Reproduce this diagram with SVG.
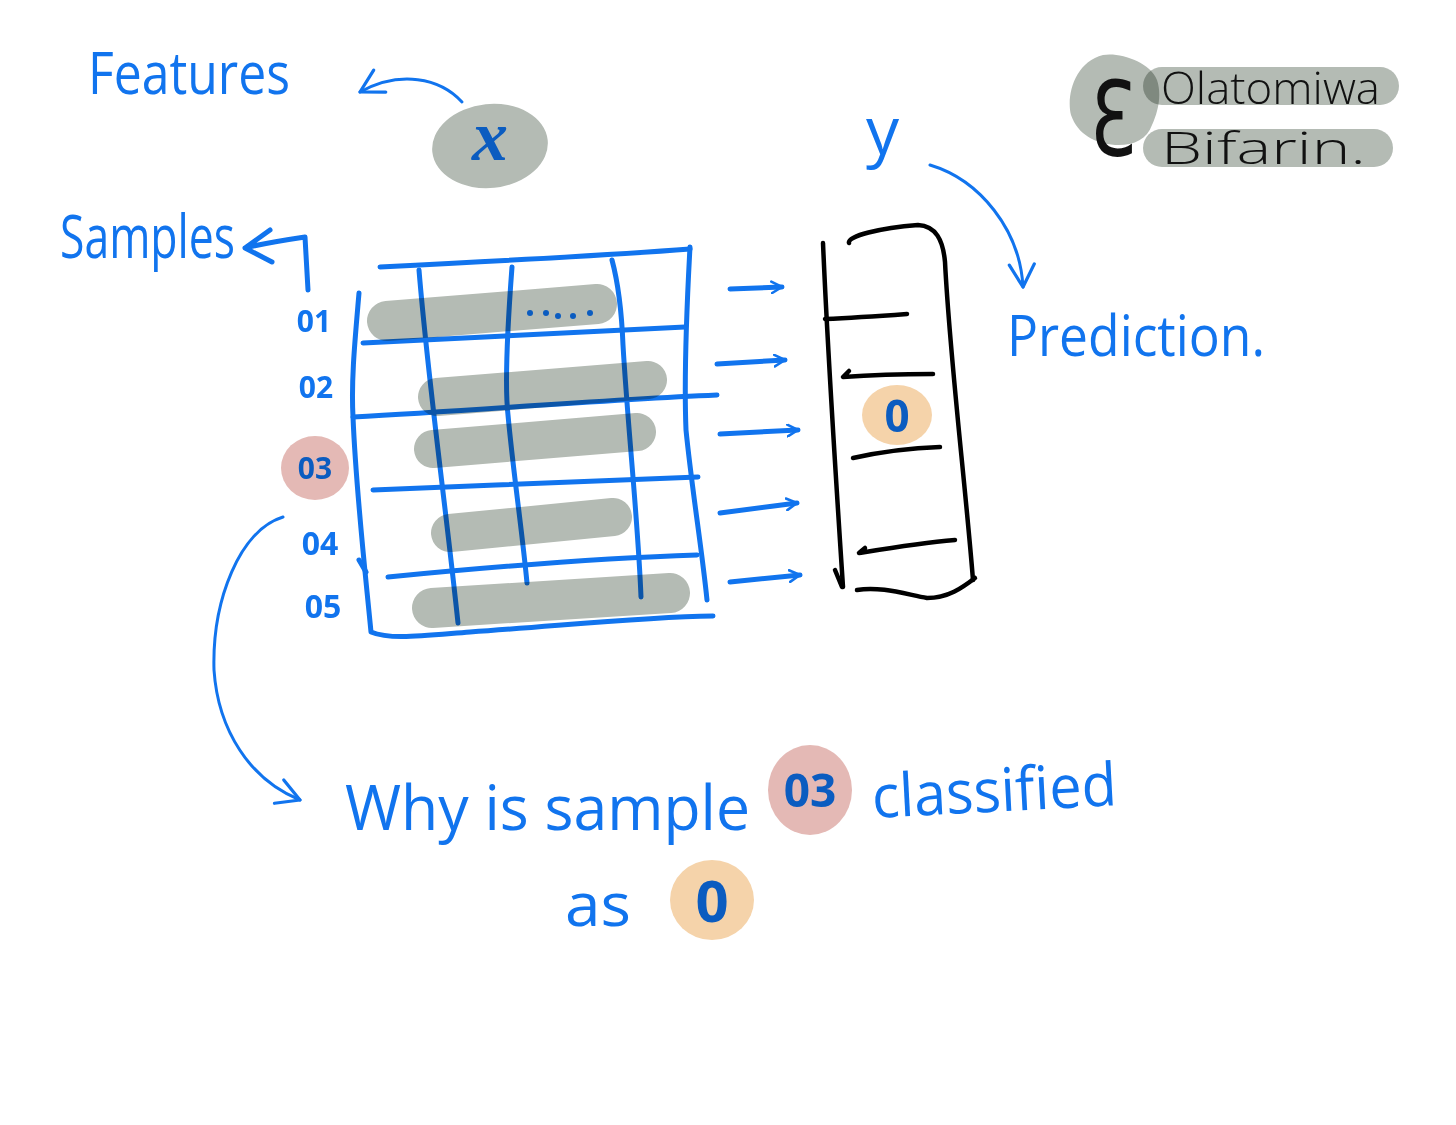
<svg xmlns="http://www.w3.org/2000/svg" width="1456" height="1125" viewBox="0 0 1456 1125">
<style>
.blue{fill:none;stroke:#1174EE;stroke-width:5;stroke-linecap:round;stroke-linejoin:round}
.thin{fill:none;stroke:#1174EE;stroke-width:3;stroke-linecap:round;stroke-linejoin:round}
.blk{fill:none;stroke:#000;stroke-width:4.5;stroke-linecap:round;stroke-linejoin:round}
.bar{fill:none;stroke:#B4BBB4;stroke-linecap:round;mix-blend-mode:multiply}
.gray{fill:#B4BBB4;mix-blend-mode:multiply}
.t{font-family:"Open Sans","Liberation Sans",sans-serif;fill:#1174EE}
.td{font-family:"Open Sans","Liberation Sans",sans-serif;fill:#0B5CC0;font-weight:bold}
.tk{font-family:"Open Sans","Liberation Sans",sans-serif;fill:#111;font-weight:300}
</style>
<defs>
<marker id="ah" viewBox="0 0 12 12" refX="10" refY="6" markerWidth="14" markerHeight="14" markerUnits="userSpaceOnUse" orient="auto">
<path d="M1,1 L10,6 L1,11" fill="none" stroke="#1174EE" stroke-width="2.2" stroke-linecap="round" stroke-linejoin="round"/>
</marker>
<marker id="ahb" viewBox="0 0 12 12" refX="10" refY="6" markerWidth="30" markerHeight="30" markerUnits="userSpaceOnUse" orient="auto">
<path d="M1,1 L10,6 L1,11" fill="none" stroke="#1174EE" stroke-width="1.3" stroke-linecap="round" stroke-linejoin="round"/>
</marker>
</defs>
<rect width="1456" height="1125" fill="#fff"/>

<g id="features-label">
<text class="t" x="88" y="94" font-size="58" textLength="202" lengthAdjust="spacingAndGlyphs">Features</text>
</g>

<g id="x-node">
<ellipse cx="490" cy="146" rx="58" ry="42" transform="rotate(-6 490 146)" fill="#B4BBB4"/>
<text x="490" y="160" font-size="72" font-style="italic" text-anchor="middle" font-family="Liberation Serif,serif" fill="#0B5CC0" font-weight="bold">x</text>
</g>

<g id="samples-label">
<text class="t" x="60" y="258" font-size="60" textLength="175" lengthAdjust="spacingAndGlyphs">Samples</text>
</g>

<g id="logo">
<path class="gray" d="M1103,55 C1120,52 1150,62 1157,80 C1162,95 1158,112 1152,125 C1147,140 1132,146 1115,145 C1095,143 1078,135 1071,115 C1066,95 1075,62 1103,55 Z"/>
<rect class="gray" x="1143" y="67" width="256" height="38" rx="19"/>
<rect class="gray" x="1143" y="129" width="250" height="38" rx="19"/>
<text x="1090" y="156" font-size="104" font-family="DejaVu Sans,sans-serif" fill="#111" textLength="46" lengthAdjust="spacingAndGlyphs">Ɛ</text>
<text class="tk" x="1161" y="104" font-size="44" textLength="219" lengthAdjust="spacingAndGlyphs">Olatomiwa</text>
<text class="tk" x="1161" y="164" font-size="44" textLength="205" lengthAdjust="spacingAndGlyphs">Bifarin.</text>
</g>

<g id="matrix">
<path class="blue" d="M380,267 C480,262 600,256 690,249"/>
<path class="blue" d="M359,293 C355,340 351,380 353,417 C356,490 364,560 371,632 C390,640 420,636 470,632 C560,626 640,617 713,616"/>
<path class="blue" d="M359,560 L366,572"/>
<path class="blue" d="M363,343 C470,338 580,332 685,327"/>
<path class="blue" d="M353,417 C480,410 600,400 717,395"/>
<path class="blue" d="M373,490 C480,486 600,480 698,477"/>
<path class="blue" d="M388,577 C480,568 600,558 697,555"/>
<path class="blue" d="M419,270 C428,380 445,500 458,623"/>
<path class="blue" d="M512,267 C508,320 504,380 508,415 C513,470 522,530 527,583"/>
<path class="blue" d="M612,260 C620,290 622,320 623,345 C628,430 638,520 641,597"/>
<path class="blue" d="M690,247 C686,320 684,380 686,430 C692,490 702,550 707,600"/>
<path class="bar" stroke-width="40" d="M387,321 L597,304"/>
<path class="bar" stroke-width="38" d="M437,397 L648,380"/>
<path class="bar" stroke-width="38" d="M433,449 L637,432"/>
<path class="bar" stroke-width="38" d="M450,533 L613,517"/>
<path class="bar" stroke-width="40" d="M432,608 L670,593"/>
<g fill="#0B5CC0">
<circle cx="530" cy="313" r="3"/><circle cx="546" cy="313" r="3"/><circle cx="558" cy="316" r="3"/><circle cx="573" cy="316" r="3"/><circle cx="590" cy="313" r="3"/>
</g>
</g>

<g id="row-labels">
<text class="t" x="314" y="332" font-size="30" font-weight="bold" text-anchor="middle">01</text>
<text class="t" x="316" y="398" font-size="30" font-weight="bold" text-anchor="middle">02</text>
<ellipse cx="315" cy="468" rx="34" ry="32" fill="#E4B9B5"/>
<text class="td" x="315" y="479" font-size="30" text-anchor="middle">03</text>
<text class="t" x="320" y="555" font-size="32" font-weight="bold" text-anchor="middle">04</text>
<text class="t" x="323" y="618" font-size="32" font-weight="bold" text-anchor="middle">05</text>
</g>

<g id="y-column">
<path class="blk" d="M823,243 C828,360 836,480 843,587"/>
<path class="blk" d="M835,570 L842,587"/>
<path class="blk" d="M849,243 C847,236 880,228 918,225 C936,226 943,240 945,262 C950,360 965,480 973,580"/>
<path class="blk" d="M857,590 C880,586 905,594 927,598 C948,598 962,588 975,578"/>
<path class="blk" d="M825,319 C850,318 880,316 907,314"/>
<path class="blk" d="M849,371 L843,377 C870,375 900,374 933,374"/>
<path class="blk" d="M853,458 C880,452 910,448 940,447"/>
<path class="blk" d="M865,548 L859,553 C890,548 920,543 955,540"/>
<ellipse cx="897" cy="415" rx="35" ry="30" fill="#F5D3AA"/>
<text class="td" x="897" y="432" font-size="44" text-anchor="middle">0</text>
</g>

<g id="y-label">
<text class="t" x="866" y="154" font-size="66">y</text>
</g>

<g id="prediction-label">
<text class="t" x="1007" y="356" font-size="56" textLength="258" lengthAdjust="spacingAndGlyphs">Prediction.</text>
</g>

<g id="question">
<text class="t" x="345" y="830" font-size="62" textLength="405" lengthAdjust="spacingAndGlyphs">Why is sample</text>
<ellipse cx="810" cy="790" rx="42" ry="45" fill="#E4B9B5"/>
<text class="td" x="810" y="807" font-size="46" text-anchor="middle">03</text>
<text class="t" x="873" y="818" font-size="60" textLength="245" lengthAdjust="spacingAndGlyphs" transform="rotate(-3 873 818)">classified</text>
<text class="t" x="565" y="926" font-size="60" textLength="66" lengthAdjust="spacingAndGlyphs">as</text>
<ellipse cx="712" cy="900" rx="42" ry="40" fill="#F5D3AA"/>
<text class="td" x="712" y="922" font-size="58" text-anchor="middle">0</text>
</g>

<g id="connectors">
<path class="thin" d="M462,102 C440,78 400,70 360,92" marker-end="url(#ahb)"/>
<path class="blue" d="M305,237 C285,240 265,243 245,248 M270,230 L245,248 L272,262 M305,237 L308,290"/>
<path class="blue" d="M730,289 L782,287" marker-end="url(#ah)"/>
<path class="blue" d="M717,364 L785,360" marker-end="url(#ah)"/>
<path class="blue" d="M720,434 L798,430" marker-end="url(#ah)"/>
<path class="blue" d="M720,513 L797,503" marker-end="url(#ah)"/>
<path class="blue" d="M730,582 L800,575" marker-end="url(#ah)"/>
<path class="thin" d="M930,165 C980,180 1020,230 1023,287" marker-end="url(#ahb)"/>
<path class="thin" d="M283,517 C240,530 212,600 214,670 C218,730 250,780 300,800" marker-end="url(#ahb)"/>
</g>
</svg>
